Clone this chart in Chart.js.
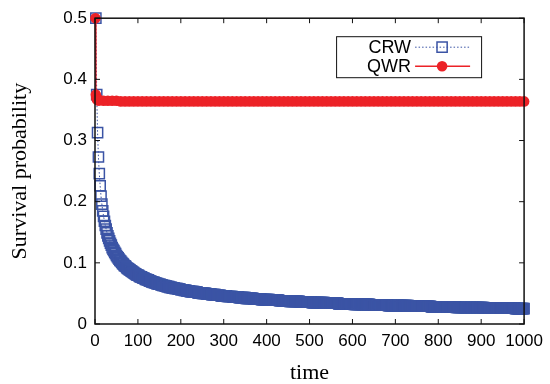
<!DOCTYPE html>
<html>
<head>
<meta charset="utf-8">
<script src="https://cdn.jsdelivr.net/npm/chart.js@4.4.1/dist/chart.umd.min.js"></script>
<style>
  body { margin: 0; background: #fff; }
  #wrap { width: 550px; height: 384px; }
</style>
</head>
<body>
<div id="wrap"><canvas id="survivalChart" width="550" height="384"></canvas></div>
<script>
// Axis ticks
const timeTicks = [0, 100, 200, 300, 400, 500, 600, 700, 800, 900, 1000];
const probTicks = [0, 0.1, 0.2, 0.3, 0.4, 0.5];

// CRW: one sample every 2 time steps (t = 2, 4, ..., 1000)
const crwStep = 2;
const crwValues = [
  0.500, 0.375, 0.313, 0.273, 0.246, 0.226, 0.209, 0.196, 0.185, 0.176,
  0.168, 0.161, 0.155, 0.149, 0.144, 0.140, 0.136, 0.132, 0.129, 0.125,
  0.122, 0.120, 0.117, 0.115, 0.112, 0.110, 0.108, 0.106, 0.104, 0.103,
  0.101, 0.099, 0.098, 0.096, 0.095, 0.094, 0.092, 0.091, 0.090, 0.089,
  0.088, 0.087, 0.086, 0.085, 0.084, 0.083, 0.082, 0.081, 0.080, 0.080,
  0.079, 0.078, 0.077, 0.077, 0.076, 0.075, 0.075, 0.074, 0.073, 0.073,
  0.072, 0.072, 0.071, 0.070, 0.070, 0.069, 0.069, 0.068, 0.068, 0.067,
  0.067, 0.066, 0.066, 0.065, 0.065, 0.065, 0.064, 0.064, 0.063, 0.063,
  0.063, 0.062, 0.062, 0.061, 0.061, 0.061, 0.060, 0.060, 0.060, 0.059,
  0.059, 0.059, 0.058, 0.058, 0.058, 0.058, 0.057, 0.057, 0.057, 0.056,
  0.056, 0.056, 0.056, 0.055, 0.055, 0.055, 0.054, 0.054, 0.054, 0.054,
  0.053, 0.053, 0.053, 0.053, 0.053, 0.052, 0.052, 0.052, 0.052, 0.051,
  0.051, 0.051, 0.051, 0.051, 0.050, 0.050, 0.050, 0.050, 0.050, 0.049,
  0.049, 0.049, 0.049, 0.049, 0.049, 0.048, 0.048, 0.048, 0.048, 0.048,
  0.047, 0.047, 0.047, 0.047, 0.047, 0.047, 0.046, 0.046, 0.046, 0.046,
  0.046, 0.046, 0.046, 0.045, 0.045, 0.045, 0.045, 0.045, 0.045, 0.045,
  0.044, 0.044, 0.044, 0.044, 0.044, 0.044, 0.044, 0.043, 0.043, 0.043,
  0.043, 0.043, 0.043, 0.043, 0.043, 0.042, 0.042, 0.042, 0.042, 0.042,
  0.042, 0.042, 0.042, 0.042, 0.041, 0.041, 0.041, 0.041, 0.041, 0.041,
  0.041, 0.041, 0.041, 0.040, 0.040, 0.040, 0.040, 0.040, 0.040, 0.040,
  0.040, 0.040, 0.040, 0.039, 0.039, 0.039, 0.039, 0.039, 0.039, 0.039,
  0.039, 0.039, 0.039, 0.039, 0.038, 0.038, 0.038, 0.038, 0.038, 0.038,
  0.038, 0.038, 0.038, 0.038, 0.038, 0.038, 0.037, 0.037, 0.037, 0.037,
  0.037, 0.037, 0.037, 0.037, 0.037, 0.037, 0.037, 0.037, 0.036, 0.036,
  0.036, 0.036, 0.036, 0.036, 0.036, 0.036, 0.036, 0.036, 0.036, 0.036,
  0.036, 0.036, 0.035, 0.035, 0.035, 0.035, 0.035, 0.035, 0.035, 0.035,
  0.035, 0.035, 0.035, 0.035, 0.035, 0.035, 0.035, 0.034, 0.034, 0.034,
  0.034, 0.034, 0.034, 0.034, 0.034, 0.034, 0.034, 0.034, 0.034, 0.034,
  0.034, 0.034, 0.034, 0.033, 0.033, 0.033, 0.033, 0.033, 0.033, 0.033,
  0.033, 0.033, 0.033, 0.033, 0.033, 0.033, 0.033, 0.033, 0.033, 0.033,
  0.033, 0.032, 0.032, 0.032, 0.032, 0.032, 0.032, 0.032, 0.032, 0.032,
  0.032, 0.032, 0.032, 0.032, 0.032, 0.032, 0.032, 0.032, 0.032, 0.032,
  0.031, 0.031, 0.031, 0.031, 0.031, 0.031, 0.031, 0.031, 0.031, 0.031,
  0.031, 0.031, 0.031, 0.031, 0.031, 0.031, 0.031, 0.031, 0.031, 0.031,
  0.031, 0.030, 0.030, 0.030, 0.030, 0.030, 0.030, 0.030, 0.030, 0.030,
  0.030, 0.030, 0.030, 0.030, 0.030, 0.030, 0.030, 0.030, 0.030, 0.030,
  0.030, 0.030, 0.030, 0.030, 0.030, 0.029, 0.029, 0.029, 0.029, 0.029,
  0.029, 0.029, 0.029, 0.029, 0.029, 0.029, 0.029, 0.029, 0.029, 0.029,
  0.029, 0.029, 0.029, 0.029, 0.029, 0.029, 0.029, 0.029, 0.029, 0.029,
  0.029, 0.028, 0.028, 0.028, 0.028, 0.028, 0.028, 0.028, 0.028, 0.028,
  0.028, 0.028, 0.028, 0.028, 0.028, 0.028, 0.028, 0.028, 0.028, 0.028,
  0.028, 0.028, 0.028, 0.028, 0.028, 0.028, 0.028, 0.028, 0.028, 0.028,
  0.027, 0.027, 0.027, 0.027, 0.027, 0.027, 0.027, 0.027, 0.027, 0.027,
  0.027, 0.027, 0.027, 0.027, 0.027, 0.027, 0.027, 0.027, 0.027, 0.027,
  0.027, 0.027, 0.027, 0.027, 0.027, 0.027, 0.027, 0.027, 0.027, 0.027,
  0.027, 0.027, 0.027, 0.026, 0.026, 0.026, 0.026, 0.026, 0.026, 0.026,
  0.026, 0.026, 0.026, 0.026, 0.026, 0.026, 0.026, 0.026, 0.026, 0.026,
  0.026, 0.026, 0.026, 0.026, 0.026, 0.026, 0.026, 0.026, 0.026, 0.026,
  0.026, 0.026, 0.026, 0.026, 0.026, 0.026, 0.026, 0.026, 0.026, 0.025,
  0.025, 0.025, 0.025, 0.025, 0.025, 0.025, 0.025, 0.025, 0.025, 0.025
];
const crwTimes = crwValues.map((v, i) => crwStep * (i + 1));

// QWR: dense at the start, then every 10 time steps
const qwrTimes = [1, 2, 3, 4, 5, 6, 7, 8, 9, 10];
for (let t = 20; t <= 1000; t += 10) qwrTimes.push(t);
const qwrValues = [
  0.500, 0.375, 0.370, 0.368, 0.367, 0.367, 0.366, 0.366, 0.366, 0.366,
  0.365, 0.365, 0.365, 0.365, 0.364, 0.364, 0.364, 0.364, 0.364, 0.364,
  0.364, 0.364, 0.364, 0.364, 0.364, 0.364, 0.364, 0.364, 0.364, 0.364,
  0.364, 0.364, 0.364, 0.364, 0.364, 0.364, 0.364, 0.364, 0.364, 0.364,
  0.364, 0.364, 0.364, 0.364, 0.364, 0.364, 0.364, 0.364, 0.364, 0.364,
  0.364, 0.364, 0.364, 0.364, 0.364, 0.364, 0.364, 0.364, 0.364, 0.364,
  0.364, 0.364, 0.364, 0.364, 0.364, 0.364, 0.364, 0.364, 0.364, 0.364,
  0.364, 0.364, 0.364, 0.364, 0.364, 0.364, 0.364, 0.364, 0.364, 0.364,
  0.364, 0.364, 0.364, 0.364, 0.364, 0.364, 0.364, 0.364, 0.364, 0.364,
  0.364, 0.364, 0.364, 0.364, 0.364, 0.364, 0.364, 0.364, 0.364, 0.364,
  0.364, 0.364, 0.364, 0.364, 0.364, 0.364, 0.364, 0.364, 0.364
];

const blue = '#3b54a5';
const red = '#ec2227';
const sansFont = "'Liberation Sans', Arial, sans-serif";
const serifFont = "'Liberation Serif', 'Times New Roman', serif";

Chart.defaults.color = '#000';
Chart.defaults.font.family = sansFont;

// gnuplot-like frame: full box with inward ticks on all four sides
const frameTicks = {
  id: 'frameTicks',
  afterDatasetsDraw(chart) {
    const { ctx, chartArea: a, scales } = chart;
    ctx.save();
    ctx.strokeStyle = '#111';
    ctx.lineWidth = 1.5;
    ctx.strokeRect(a.left, a.top, a.right - a.left, a.bottom - a.top);
    ctx.lineWidth = 1;
    ctx.beginPath();
    scales.x.ticks.forEach(t => {
      const px = scales.x.getPixelForValue(t.value);
      ctx.moveTo(px, a.bottom); ctx.lineTo(px, a.bottom - 5);
      ctx.moveTo(px, a.top); ctx.lineTo(px, a.top + 5);
    });
    scales.y.ticks.forEach(t => {
      const py = scales.y.getPixelForValue(t.value);
      ctx.moveTo(a.left, py); ctx.lineTo(a.left + 5, py);
      ctx.moveTo(a.right, py); ctx.lineTo(a.right - 5, py);
    });
    ctx.stroke();
    ctx.restore();
  }
};

// boxed key, label on the left and line sample on the right
const boxLegend = {
  id: 'boxLegend',
  afterDraw(chart) {
    const { ctx, chartArea: a } = chart;
    const left = a.right - 188, top = a.top + 18, w = 145, h = 41;
    ctx.save();
    ctx.strokeStyle = '#111';
    ctx.lineWidth = 1;
    ctx.strokeRect(left + 0.5, top + 0.5, w, h);
    ctx.font = '18px ' + sansFont;
    ctx.textAlign = 'right';
    ctx.textBaseline = 'middle';
    chart.data.datasets.forEach((ds, i) => {
      const y = top + 11 + i * 19;
      ctx.fillStyle = '#000';
      ctx.fillText(ds.label, left + 75, y + 1);
      ctx.strokeStyle = ds.borderColor;
      ctx.lineWidth = ds.borderWidth;
      ctx.setLineDash(ds.borderDash || []);
      ctx.beginPath();
      ctx.moveTo(left + 79, y);
      ctx.lineTo(left + 134, y);
      ctx.stroke();
      ctx.setLineDash([]);
      ctx.fillStyle = ds.pointBackgroundColor;
      ctx.strokeStyle = ds.pointBorderColor;
      ctx.lineWidth = ds.pointBorderWidth;
      Chart.helpers.drawPoint(ctx, {
        pointStyle: ds.pointStyle, radius: ds.pointRadius, rotation: 0, borderWidth: ds.pointBorderWidth
      }, left + 106, y);
    });
    ctx.restore();
  }
};

new Chart(document.getElementById('survivalChart'), {
  type: 'line',
  data: {
    datasets: [{
      label: 'CRW',
      data: crwTimes.map((t, i) => ({ x: t, y: crwValues[i] })),
      borderColor: blue,
      borderWidth: 1,
      borderDash: [1.5, 2],
      pointStyle: 'rect',
      pointRadius: 7.2,
      pointBorderColor: blue,
      pointBackgroundColor: 'rgba(255,255,255,0)',
      pointBorderWidth: 1.5,
      clip: false,
      order: 1
    }, {
      label: 'QWR',
      data: qwrTimes.map((t, i) => ({ x: t, y: qwrValues[i] })),
      borderColor: red,
      borderWidth: 1.5,
      pointStyle: 'circle',
      pointRadius: 5.3,
      pointBorderColor: red,
      pointBackgroundColor: red,
      pointBorderWidth: 0,
      clip: false,
      order: 0
    }]
  },
  options: {
    responsive: false,
    animation: false,
    events: [],
    layout: { padding: { top: 15, right: 25, left: 0, bottom: 0 } },
    plugins: {
      legend: { display: false },
      tooltip: { enabled: false }
    },
    scales: {
      x: {
        type: 'linear',
        min: 0,
        max: 1000,
        afterBuildTicks: s => { s.ticks = timeTicks.map(v => ({ value: v })); },
        afterFit: s => { s.height = 60; },
        grid: { display: false, drawTicks: false },
        border: { display: false },
        ticks: {
          font: { size: 17 }, padding: 7, maxRotation: 0, autoSkip: false,
          callback: v => String(v)
        },
        title: {
          display: true,
          text: 'time',
          font: { family: serifFont, size: 22, lineHeight: 1 },
          padding: { top: 1, bottom: 0 }
        }
      },
      y: {
        min: 0,
        max: 0.5,
        afterBuildTicks: s => { s.ticks = probTicks.map(v => ({ value: v })); },
        afterFit: s => { s.width = 95; },
        grid: { display: false, drawTicks: false },
        border: { display: false },
        ticks: { font: { size: 17 }, padding: 8, callback: v => String(v) },
        title: {
          display: true,
          text: 'Survival probability',
          font: { family: serifFont, size: 22, lineHeight: 1.2 },
          padding: { top: 7, bottom: 0 }
        }
      }
    }
  },
  plugins: [frameTicks, boxLegend]
});
</script>
</body>
</html>
